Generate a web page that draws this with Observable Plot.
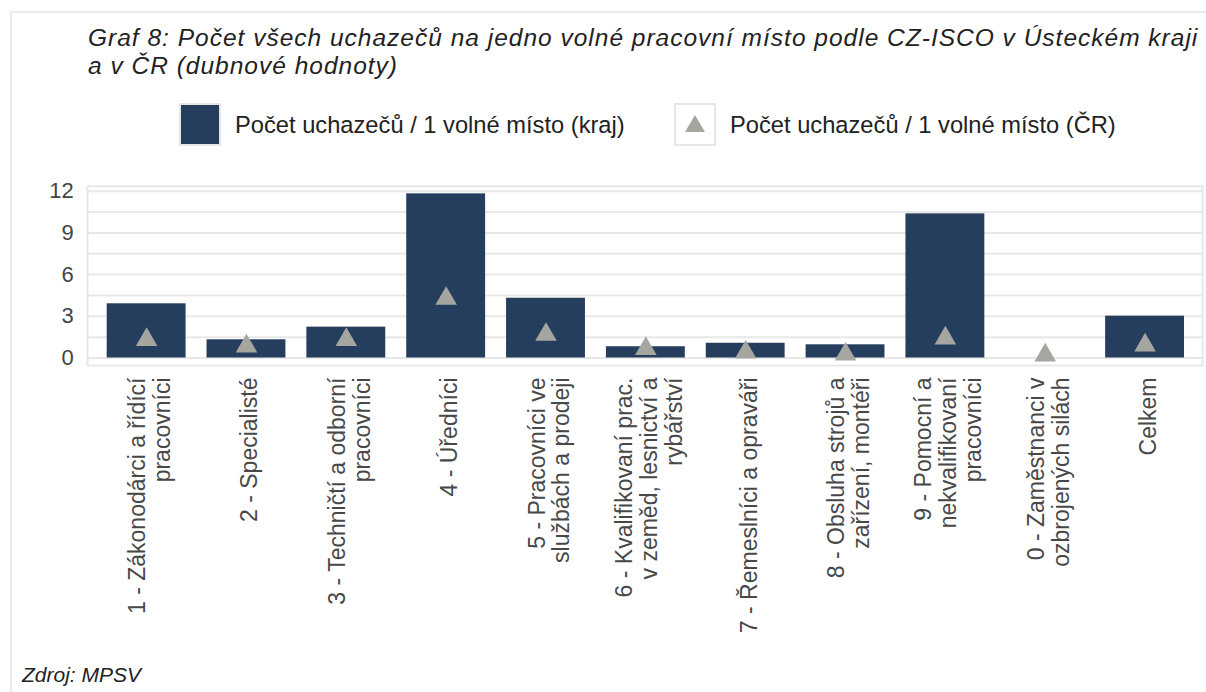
<!DOCTYPE html>
<html>
<head>
<meta charset="utf-8">
<script src="https://cdn.jsdelivr.net/npm/d3@7"></script>
<script src="https://cdn.jsdelivr.net/npm/@observablehq/plot@0.6"></script>
<style>
  html, body { margin: 0; padding: 0; background: #fff; width: 1206px; height: 692px; overflow: hidden; }
  body { position: relative; font-family: "Liberation Sans", Arial, sans-serif; }
  #frame { position: absolute; left: 10px; top: 11px; width: 1300px; height: 800px; border: 2px solid #ebebeb; box-sizing: border-box; }
  #title { position: absolute; left: 88px; top: 24px; font-style: italic; font-size: 24.5px; letter-spacing: 1px; line-height: 27.5px; color: #222; white-space: nowrap; }
  .leg { position: absolute; top: 103px; height: 42px; display: flex; align-items: center; }
  .sw { width: 38px; height: 39px; border: 2px solid #e6e6e6; box-sizing: content-box; }
  .legtext { position: absolute; font-size: 23.7px; color: #222; white-space: nowrap; top: 12px; }
  #chart { position: absolute; left: 0; top: 160px; }
  #caption { position: absolute; left: 22px; top: 663px; font-style: italic; font-size: 21px; color: #222; }
</style>
</head>
<body>
<div id="frame"></div>
<div id="title">Graf 8: Počet všech uchazečů na jedno volné pracovní místo podle CZ-ISCO v Ústeckém kraji<br>a v ČR (dubnové hodnoty)</div>
<div class="leg" style="left:179px;"><div class="sw" style="background:#263e5e;"></div></div>
<div class="legtext" style="left:235px; top:112px;">Počet uchazečů / 1 volné místo (kraj)</div>
<div class="leg" style="left:674px;"><div class="sw" style="background:#fff; position:relative;">
  <svg width="38" height="39" style="position:absolute;left:0;top:0"><polygon points="19,10 29,27 9,27" fill="#a6a6a1"/></svg>
</div></div>
<div class="legtext" style="left:730px; top:112px;">Počet uchazečů / 1 volné místo (ČR)</div>
<div id="chart"></div>
<div id="caption">Zdroj: MPSV</div>
<script>
const categories = [
  "1 - Zákonodárci a řídící\npracovníci",
  "2 - Specialisté",
  "3 - Techničtí a odborní\npracovníci",
  "4 - Úředníci",
  "5 - Pracovníci ve\nslužbách a prodeji",
  "6 - Kvalifikovaní prac.\nv zeměd, lesnictví a\nrybářství",
  "7 - Řemeslníci a opraváři",
  "8 - Obsluha strojů a\nzařízení, montéři",
  "9 - Pomocní a\nnekvalifikovaní\npracovníci",
  "0 - Zaměstnanci v\nozbrojených silách",
  "Celkem"
];
const krajValues = [3.90, 1.31, 2.22, 11.81, 4.30, 0.81, 1.06, 0.95, 10.37, 0, 3.01];
const crValues   = [1.53, 1.06, 1.53, 4.49, 1.90, 0.88, 0.62, 0.48, 1.64, 0.41, 1.13];
const yTicks = [0, 3, 6, 9, 12];
const gridTicks = [0, 1.5, 3, 4.5, 6, 7.5, 9, 10.5, 12];

const data = categories.map((c, i) => ({cat: c, kraj: krajValues[i], cr: crValues[i]}));

const chart = Plot.plot({
  width: 1206,
  height: 480,
  marginLeft: 96.2,
  marginRight: 11.5,
  marginTop: 30.7,
  marginBottom: 282.5,
  x: {domain: categories, paddingInner: 0.21, paddingOuter: 0.105, round: false, axis: null},
  y: {domain: [0, 12], axis: null},
  style: {fontFamily: "'Liberation Sans', Arial, sans-serif", background: "transparent", overflow: "visible"},
  marks: [
    Plot.frame({stroke: "#e8e8e8", strokeWidth: 2, insetLeft: -9.2, insetRight: -7.5, insetTop: -5, insetBottom: -7.5}),
    Plot.ruleY(gridTicks, {stroke: "#e8e8e8", strokeWidth: 2, insetLeft: -9.2, insetRight: -7.5}),
    Plot.axisY({ticks: yTicks, tickSize: 0, tickPadding: 23, fontSize: 22, color: "#444", tickFormat: d => d}),
    Plot.barY(data, {x: "cat", y: "kraj", fill: "#263e5e"}),
    Plot.dot(data, {x: "cat", y: "cr", symbol: "triangle", r: 8, fill: "#a6a6a1", stroke: null, dy: 3}),
    Plot.text(categories, {x: d => d, frameAnchor: "bottom", rotate: -90, textAnchor: "end", lineAnchor: "middle", dy: 19.5, dx: 3, fontSize: 23, lineHeight: 1.08, fill: "#484848"})
  ]
});
document.getElementById("chart").appendChild(chart);
</script>
</body>
</html>
